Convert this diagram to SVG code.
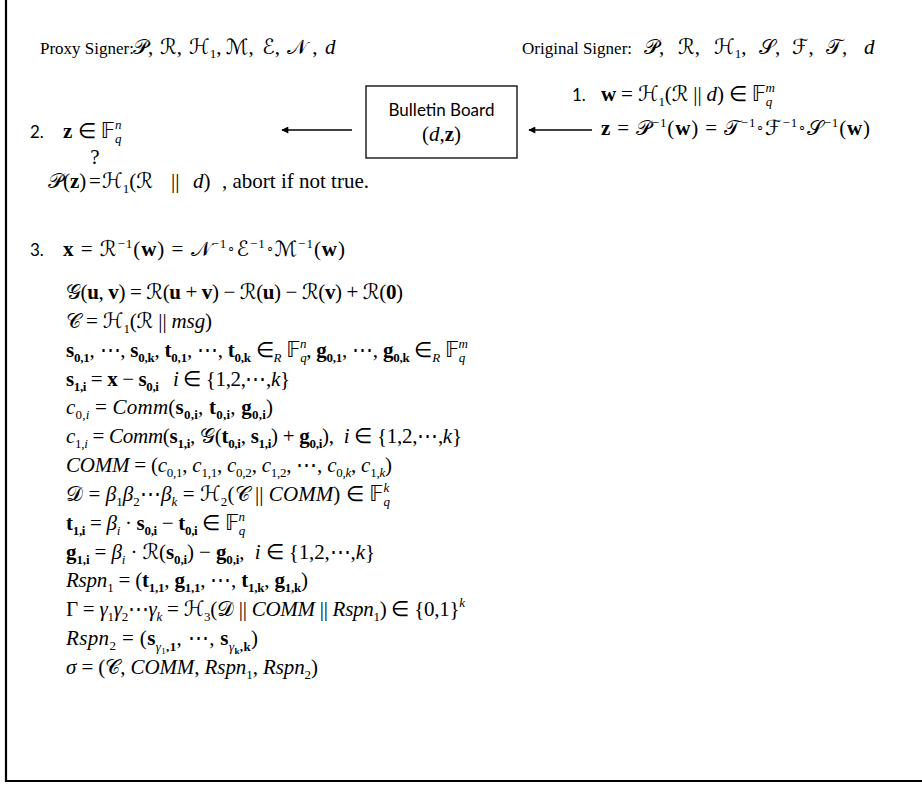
<svg xmlns="http://www.w3.org/2000/svg" width="922" height="785" viewBox="0 0 922 785">
<style>
text{font-family:"Liberation Serif","Times New Roman",serif;font-size:21px;fill:#000}
.h{font-size:17px}
.n{font-family:Lato,"Liberation Sans",sans-serif;font-size:17px}
.i{font-style:italic}
.b{font-weight:bold}
.c{font-family:"DejaVu Serif","DejaVu Sans","Noto Sans",serif}
.d{font-family:"DejaVu Sans","DejaVu Serif",sans-serif}
.s{font-size:13px}
.frame{fill:none;stroke:#000;stroke-width:2.2}
.conn{stroke:#000;stroke-width:1.6;fill:none}
.box{fill:#fff;stroke:#000;stroke-width:1.3}
</style>
<defs>
<marker id="ah" viewBox="0 0 10 10" refX="9" refY="5" markerWidth="9" markerHeight="7" markerUnits="userSpaceOnUse" orient="auto"><path d="M0,0 L10,5 L0,10 z" fill="#000"/></marker>
</defs>
<path class="frame" d="M6 0 V781 H922"/>
<g id="proxy-header">
<text class="h" x="40" y="54">Proxy Signer:</text>
<text x="133" y="54" font-size="22"><tspan class="c">𝒫</tspan>,<tspan class="c" x="160">ℛ</tspan>,<tspan class="c" x="189">ℋ</tspan><tspan class="s" dy="4">1</tspan><tspan dy="-4">,</tspan><tspan class="c" x="226">ℳ</tspan>,<tspan class="c" x="262">ℰ</tspan>,<tspan class="c" x="287">𝒩</tspan> ,<tspan class="i" x="325">d</tspan></text>
</g>
<g id="original-header">
<text class="h" x="522" y="54">Original Signer:</text>
<text x="644" y="54" font-size="22"><tspan class="c">𝒫</tspan>,<tspan class="c" x="678">ℛ</tspan>,<tspan class="c" x="714">ℋ</tspan><tspan class="s" dy="4">1</tspan><tspan dy="-4">,</tspan><tspan class="c" x="759">𝒮</tspan>,<tspan class="c" x="792">ℱ</tspan>,<tspan class="c" x="826">𝒯</tspan>,<tspan class="i" x="864">d</tspan></text>
</g>
<g id="step1">
<text class="n" x="572" y="101">1.</text>
<text x="601" y="101" textLength="174" lengthAdjust="spacing"><tspan class="b">w</tspan> = <tspan class="c">ℋ</tspan><tspan class="s" dy="5">1</tspan><tspan dy="-5">(</tspan><tspan class="c">ℛ</tspan> || <tspan class="i">d</tspan>) ∈ <tspan class="d">𝔽</tspan><tspan class="s i" dy="5">q</tspan><tspan class="s i" dx="-6.5" dy="-14">m</tspan></text>
<text x="601" y="135" textLength="269" lengthAdjust="spacing"><tspan class="b">z</tspan> = <tspan class="c">𝒫</tspan><tspan class="s" dy="-8">−1</tspan><tspan dy="8">(</tspan><tspan class="b">w</tspan>) = <tspan class="c">𝒯</tspan><tspan class="s" dy="-8">−1</tspan><tspan class="s" dy="4">∘</tspan><tspan class="c" dy="4">ℱ</tspan><tspan class="s" dy="-8">−1</tspan><tspan class="s" dy="4">∘</tspan><tspan class="c" dy="4">𝒮</tspan><tspan class="s" dy="-8">−1</tspan><tspan dy="8">(</tspan><tspan class="b">w</tspan>)</text>
</g>
<g id="bulletin-board">
<rect class="box" x="366" y="86" width="151" height="72"/>
<text class="n" x="441.5" y="116" text-anchor="middle" font-size="16">Bulletin Board</text>
<text x="441.5" y="141" text-anchor="middle">(<tspan class="i">d</tspan>,<tspan class="b">z</tspan>)</text>
</g>
<g id="connectors">
<line class="conn" x1="352" y1="130" x2="282" y2="130" marker-end="url(#ah)"/>
<line class="conn" x1="592" y1="130" x2="529" y2="130" marker-end="url(#ah)"/>
</g>
<g id="step2">
<text class="n" x="30" y="138">2.</text>
<text x="63" y="138"><tspan class="b">z</tspan> ∈ <tspan class="d">𝔽</tspan><tspan class="s i" dy="5">q</tspan><tspan class="s i" dx="-6.5" dy="-14">n</tspan></text>
<text x="48" y="188"><tspan class="c">𝒫</tspan>(<tspan class="b">z</tspan>)</text>
<text x="89" y="188">=</text>
<text x="95" y="164" font-size="10" text-anchor="middle">?</text>
<text x="102" y="188" font-size="22"><tspan class="c">ℋ</tspan><tspan class="s" dy="5">1</tspan><tspan dy="-5">(</tspan><tspan class="c">ℛ</tspan><tspan x="171">||</tspan><tspan class="i" x="193">d</tspan>)</text>
<text x="222" y="188" font-size="19">, abort if not true.</text>
</g>
<g id="step3">
<text class="n" x="30" y="256">3.</text>
<text x="63" y="256" textLength="282" lengthAdjust="spacing"><tspan class="b">x</tspan> = <tspan class="c">ℛ</tspan><tspan class="s" dy="-8">−1</tspan><tspan dy="8">(</tspan><tspan class="b">w</tspan>) = <tspan class="c">𝒩</tspan><tspan class="s" dy="-8">−1</tspan><tspan class="s" dy="4">∘</tspan><tspan class="c" dy="4">ℰ</tspan><tspan class="s" dy="-8">−1</tspan><tspan class="s" dy="4">∘</tspan><tspan class="c" dy="4">ℳ</tspan><tspan class="s" dy="-8">−1</tspan><tspan dy="8">(</tspan><tspan class="b">w</tspan>)</text>
<text x="66" y="299" textLength="337" lengthAdjust="spacing"><tspan class="c">𝒢</tspan>(<tspan class="b">u</tspan>, <tspan class="b">v</tspan>) = <tspan class="c">ℛ</tspan>(<tspan class="b">u</tspan> + <tspan class="b">v</tspan>) − <tspan class="c">ℛ</tspan>(<tspan class="b">u</tspan>) − <tspan class="c">ℛ</tspan>(<tspan class="b">v</tspan>) + <tspan class="c">ℛ</tspan>(<tspan class="b">0</tspan>)</text>
<text x="66" y="328" textLength="146" lengthAdjust="spacing"><tspan class="c">𝒞</tspan> = <tspan class="c">ℋ</tspan><tspan class="s" dy="5">1</tspan><tspan dy="-5">(</tspan><tspan class="c">ℛ</tspan> || <tspan class="i">msg</tspan>)</text>
<text x="66" y="357" textLength="402" lengthAdjust="spacing"><tspan class="b">s</tspan><tspan class="s b" dy="5">0,1</tspan><tspan dy="-5">, ⋯, </tspan><tspan class="b">s</tspan><tspan class="s b" dy="5">0,k</tspan><tspan dy="-5">, </tspan><tspan class="b">t</tspan><tspan class="s b" dy="5">0,1</tspan><tspan dy="-5">, ⋯, </tspan><tspan class="b">t</tspan><tspan class="s b" dy="5">0,k</tspan><tspan dy="-5"> ∈</tspan><tspan class="s i" dy="5">R</tspan><tspan dy="-5"> </tspan><tspan class="d">𝔽</tspan><tspan class="s i" dy="5">q</tspan><tspan class="s i" dx="-6.5" dy="-14">n</tspan><tspan dy="9">, </tspan><tspan class="b">g</tspan><tspan class="s b" dy="5">0,1</tspan><tspan dy="-5">, ⋯, </tspan><tspan class="b">g</tspan><tspan class="s b" dy="5">0,k</tspan><tspan dy="-5"> ∈</tspan><tspan class="s i" dy="5">R</tspan><tspan dy="-5"> </tspan><tspan class="d">𝔽</tspan><tspan class="s i" dy="5">q</tspan><tspan class="s i" dx="-6.5" dy="-14">m</tspan></text>
<text x="66" y="386" textLength="224" lengthAdjust="spacing"><tspan class="b">s</tspan><tspan class="s b" dy="5">1,i</tspan><tspan dy="-5"> = </tspan><tspan class="b">x</tspan> − <tspan class="b">s</tspan><tspan class="s b" dy="5">0,i</tspan><tspan dy="-5">&#160;&#160;&#160;</tspan><tspan class="i">i</tspan> ∈ {1,2,⋯,<tspan class="i">k</tspan>}</text>
<text x="66" y="414" textLength="207" lengthAdjust="spacing"><tspan class="i">c</tspan><tspan class="s" dy="5">0,<tspan class="i">i</tspan></tspan><tspan dy="-5"> = </tspan><tspan class="i">Comm</tspan>(<tspan class="b">s</tspan><tspan class="s b" dy="5">0,i</tspan><tspan dy="-5">, </tspan><tspan class="b">t</tspan><tspan class="s b" dy="5">0,i</tspan><tspan dy="-5">, </tspan><tspan class="b">g</tspan><tspan class="s b" dy="5">0,i</tspan><tspan dy="-5">)</tspan></text>
<text x="66" y="443" textLength="396" lengthAdjust="spacing"><tspan class="i">c</tspan><tspan class="s" dy="5">1,<tspan class="i">i</tspan></tspan><tspan dy="-5"> = </tspan><tspan class="i">Comm</tspan>(<tspan class="b">s</tspan><tspan class="s b" dy="5">1,i</tspan><tspan dy="-5">, </tspan><tspan class="c">𝒢</tspan>(<tspan class="b">t</tspan><tspan class="s b" dy="5">0,i</tspan><tspan dy="-5">, </tspan><tspan class="b">s</tspan><tspan class="s b" dy="5">1,i</tspan><tspan dy="-5">) + </tspan><tspan class="b">g</tspan><tspan class="s b" dy="5">0,i</tspan><tspan dy="-5">),&#160; </tspan><tspan class="i">i</tspan> ∈ {1,2,⋯,<tspan class="i">k</tspan>}</text>
<text x="66" y="472" textLength="326" lengthAdjust="spacing"><tspan class="i">COMM</tspan> = (<tspan class="i">c</tspan><tspan class="s" dy="5">0,1</tspan><tspan dy="-5">, </tspan><tspan class="i">c</tspan><tspan class="s" dy="5">1,1</tspan><tspan dy="-5">, </tspan><tspan class="i">c</tspan><tspan class="s" dy="5">0,2</tspan><tspan dy="-5">, </tspan><tspan class="i">c</tspan><tspan class="s" dy="5">1,2</tspan><tspan dy="-5">, ⋯, </tspan><tspan class="i">c</tspan><tspan class="s" dy="5">0,<tspan class="i">k</tspan></tspan><tspan dy="-5">, </tspan><tspan class="i">c</tspan><tspan class="s" dy="5">1,<tspan class="i">k</tspan></tspan><tspan dy="-5">)</tspan></text>
<text x="66" y="501" textLength="324" lengthAdjust="spacing"><tspan class="c">𝒟</tspan> = <tspan class="i">β</tspan><tspan class="s" dy="5">1</tspan><tspan class="i" dy="-5">β</tspan><tspan class="s" dy="5">2</tspan><tspan dy="-5">⋯</tspan><tspan class="i">β</tspan><tspan class="s i" dy="5">k</tspan><tspan dy="-5"> = </tspan><tspan class="c">ℋ</tspan><tspan class="s" dy="5">2</tspan><tspan dy="-5">(</tspan><tspan class="c">𝒞</tspan> || <tspan class="i">COMM</tspan>) ∈ <tspan class="d">𝔽</tspan><tspan class="s i" dy="5">q</tspan><tspan class="s i" dx="-6.5" dy="-14">k</tspan></text>
<text x="66" y="530" textLength="179" lengthAdjust="spacing"><tspan class="b">t</tspan><tspan class="s b" dy="5">1,i</tspan><tspan dy="-5"> = </tspan><tspan class="i">β</tspan><tspan class="s i" dy="5">i</tspan><tspan dy="-5"> · </tspan><tspan class="b">s</tspan><tspan class="s b" dy="5">0,i</tspan><tspan dy="-5"> − </tspan><tspan class="b">t</tspan><tspan class="s b" dy="5">0,i</tspan><tspan dy="-5"> ∈ </tspan><tspan class="d">𝔽</tspan><tspan class="s i" dy="5">q</tspan><tspan class="s i" dx="-6.5" dy="-14">n</tspan></text>
<text x="66" y="559" textLength="309" lengthAdjust="spacing"><tspan class="b">g</tspan><tspan class="s b" dy="5">1,i</tspan><tspan dy="-5"> = </tspan><tspan class="i">β</tspan><tspan class="s i" dy="5">i</tspan><tspan dy="-5"> · </tspan><tspan class="c">ℛ</tspan>(<tspan class="b">s</tspan><tspan class="s b" dy="5">0,i</tspan><tspan dy="-5">) − </tspan><tspan class="b">g</tspan><tspan class="s b" dy="5">0,i</tspan><tspan dy="-5">,&#160; </tspan><tspan class="i">i</tspan> ∈ {1,2,⋯,<tspan class="i">k</tspan>}</text>
<text x="66" y="587" textLength="242" lengthAdjust="spacing"><tspan class="i">Rspn</tspan><tspan class="s" dy="5">1</tspan><tspan dy="-5"> = (</tspan><tspan class="b">t</tspan><tspan class="s b" dy="5">1,1</tspan><tspan dy="-5">, </tspan><tspan class="b">g</tspan><tspan class="s b" dy="5">1,1</tspan><tspan dy="-5">, ⋯, </tspan><tspan class="b">t</tspan><tspan class="s b" dy="5">1,k</tspan><tspan dy="-5">, </tspan><tspan class="b">g</tspan><tspan class="s b" dy="5">1,k</tspan><tspan dy="-5">)</tspan></text>
<text x="66" y="616" textLength="399" lengthAdjust="spacing">Γ = <tspan class="i">γ</tspan><tspan class="s" dy="5">1</tspan><tspan class="i" dy="-5">γ</tspan><tspan class="s" dy="5">2</tspan><tspan dy="-5">⋯</tspan><tspan class="i">γ</tspan><tspan class="s i" dy="5">k</tspan><tspan dy="-5"> = </tspan><tspan class="c">ℋ</tspan><tspan class="s" dy="5">3</tspan><tspan dy="-5">(</tspan><tspan class="c">𝒟</tspan> || <tspan class="i">COMM</tspan> || <tspan class="i">Rspn</tspan><tspan class="s" dy="5">1</tspan><tspan dy="-5">) ∈ {0,1}</tspan><tspan class="s i" dy="-9">k</tspan></text>
<text x="66" y="645" textLength="192" lengthAdjust="spacing"><tspan class="i">Rspn</tspan><tspan class="s" dy="5">2</tspan><tspan dy="-5"> = (</tspan><tspan class="b">s</tspan><tspan class="s i" dy="6">γ</tspan><tspan font-size="9" dy="3">1</tspan><tspan class="s b" dy="-3">,1</tspan><tspan dy="-6">, ⋯, </tspan><tspan class="b">s</tspan><tspan class="s i" dy="6">γ</tspan><tspan font-size="9" font-weight="bold" dy="3">k</tspan><tspan class="s b" dy="-3">,k</tspan><tspan dy="-6">)</tspan></text>
<text x="66" y="674" textLength="252" lengthAdjust="spacing"><tspan class="i">σ</tspan> = (<tspan class="c">𝒞</tspan>, <tspan class="i">COMM</tspan>, <tspan class="i">Rspn</tspan><tspan class="s" dy="5">1</tspan><tspan dy="-5">, </tspan><tspan class="i">Rspn</tspan><tspan class="s" dy="5">2</tspan><tspan dy="-5">)</tspan></text>
</g>
</svg>
